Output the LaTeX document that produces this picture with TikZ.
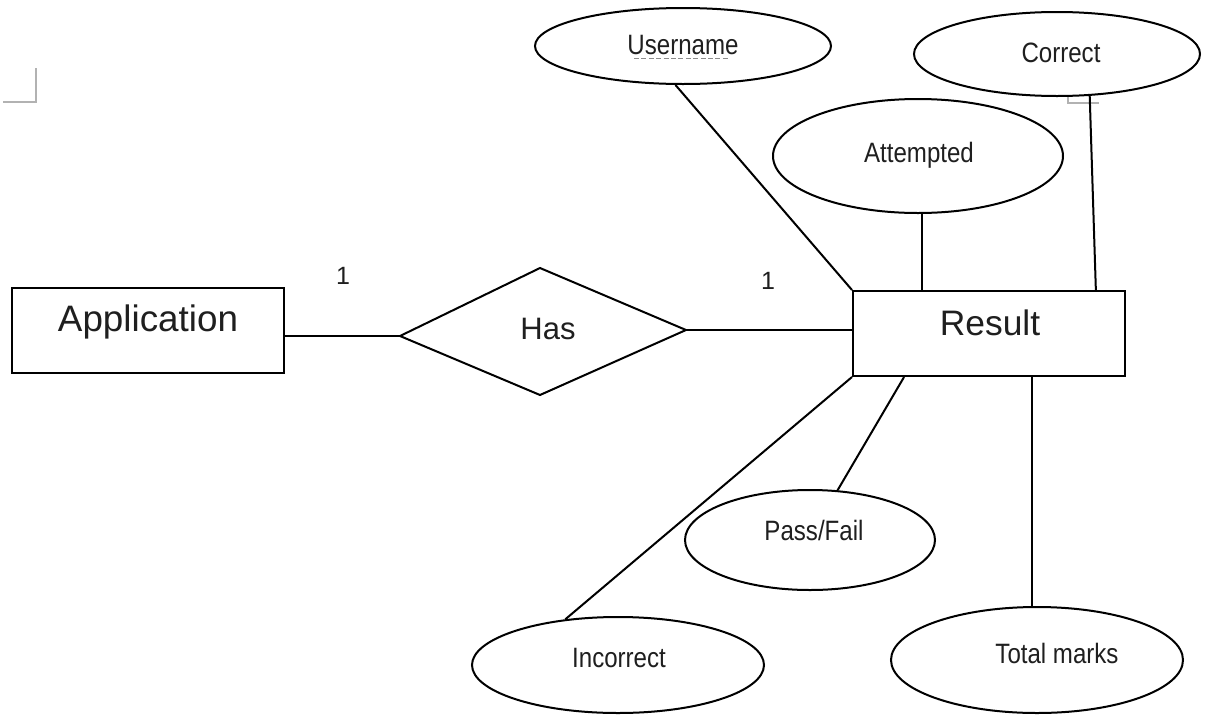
\documentclass[tikz,border=0pt]{standalone}
\usepackage{fontspec}
\setmainfont{Liberation Sans}
\newfontfamily\nfont[FakeStretch=0.86]{Liberation Sans}
\usetikzlibrary{shapes.geometric,calc}
\tikzset{
  ent/.style={draw=black,line width=1pt,rectangle,inner sep=0pt},
  attr/.style={draw=black,line width=1pt,ellipse,inner sep=0pt},
  lbl/.style={text=black!88,inner sep=0pt,font=\nfont\fontsize{14}{16}\selectfont},
  card/.style={text=black!88,inner sep=0pt,font=\fontsize{12.5}{14}\selectfont},
  conn/.style={draw=black,line width=1pt},
  straymark/.style={draw=black!30,line width=0.8pt}
}
\begin{document}
\begin{tikzpicture}[x=0.5pt,y=-0.5pt]
\useasboundingbox[fill=white] (0,0) rectangle (1211,718);
% stray marks
\draw[straymark] (36,68) -- (36,102) -- (3,102);
\draw[straymark] (1068,97) -- (1068,103) -- (1099,103);
% entities
\node[ent,minimum width=136pt,minimum height=42.5pt] (app) at (148,330.5) {};
\node[text=black!88,inner sep=0pt,font=\fontsize{18.4}{20}\selectfont] (apptxt) at (148,322) {Application};
\node[ent,minimum width=136pt,minimum height=42.5pt] (res) at (989,333.5) {};
\node[text=black!88,inner sep=0pt,font=\fontsize{17.7}{20}\selectfont] (restxt) at (990,323) {Result};
% relationship
\coordinate (hasL) at (400,336);
\coordinate (hasT) at (540,268);
\coordinate (hasR) at (686,330);
\coordinate (hasB) at (540,395);
\draw[conn,line join=miter] (hasL) -- (hasT) -- (hasR) -- (hasB) -- cycle;
\node[text=black!88,inner sep=0pt,font=\fontsize{15.5}{18}\selectfont] (has) at (548,329) {Has};
% attributes
\node[attr,minimum width=148pt,minimum height=38pt] (user) at (683,46) {};
\node[lbl] (usertxt) at (683,45) {Username};
\draw[black!45,line width=0.7pt,dash pattern=on 2.5pt off 1.2pt] (634,58.5) -- (729,58.5);
\node[attr,minimum width=143pt,minimum height=42pt] (corr) at (1057,54) {};
\node[lbl] (corrtxt) at (1061,53) {Correct};
\node[attr,minimum width=145pt,minimum height=57pt] (att) at (918,156) {};
\node[lbl] (atttxt) at (919,155) {Attempted};
\node[attr,minimum width=125pt,minimum height=50pt] (pass) at (810,540) {};
\node[lbl] (passtxt) at (814,530) {Pass/Fail};
\node[attr,minimum width=146pt,minimum height=48pt] (inc) at (618,665) {};
\node[lbl] (inctxt) at (619,658) {Incorrect};
\node[attr,minimum width=146pt,minimum height=53pt] (tot) at (1037,660) {};
\node[lbl] (tottxt) at (1057,653) {Total marks};
% cardinalities
\node[card] (c1) at (343,276) {1};
\node[card] (c2) at (768,281) {1};
% connectors
\draw[conn] (app.east |- hasL) -- (hasL);
\draw[conn] (hasR) -- (hasR -| res.west);
\draw[conn] (user.259) -- (res.north west);
\draw[conn] (att.south -| 922,0) -- (res.north -| 922,0);
\coordinate (rc) at ($(res.north west)!0.89!(res.north east)$);
\draw[conn] (corr.-52) -- (rc);
\coordinate (rp) at ($(res.south west)!0.19!(res.south east)$);
\draw[conn] (rp) -- (pass.61);
\draw[conn] (res.south west) -- (inc.139);
\coordinate (rt) at ($(res.south west)!0.658!(res.south east)$);
\draw[conn] (rt) -- (rt |- tot.north);
\end{tikzpicture}
\end{document}
